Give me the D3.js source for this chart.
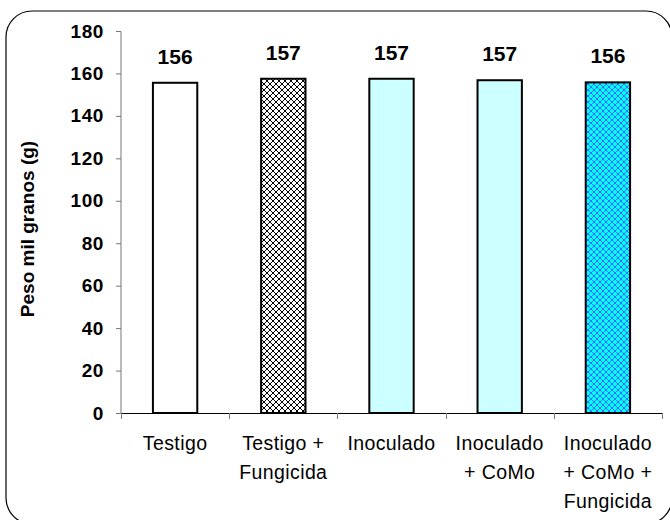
<!DOCTYPE html>
<html><head><meta charset="utf-8">
<script src="https://cdn.jsdelivr.net/npm/d3@7"></script>
<style>body{margin:0;background:#fff}svg{display:block}</style>
</head><body><svg id="c" width="670" height="520"></svg>
<script>
const categories = [["Testigo"],["Testigo +","Fungicida"],["Inoculado"],["Inoculado","+ CoMo"],["Inoculado","+ CoMo +","Fungicida"]];
const values = [155.6, 157.5, 157.5, 156.8, 155.8];
const valueLabels = ["156","157","157","157","156"];
const yTicks = [0,20,40,60,80,100,120,140,160,180];
const fills = ["#ffffff","url(#hatchBlack)","#ccffff","#ccffff","url(#hatchBlue)"];
const FONT = "Liberation Sans, Arial, Helvetica, sans-serif";

const svg = d3.select("#c");
const defs = svg.append("defs");
function hatch(id, bg, fg){
  const p = defs.append("pattern").attr("id",id).attr("patternUnits","userSpaceOnUse")
    .attr("width",6).attr("height",6);
  p.append("rect").attr("width",6).attr("height",6).attr("fill",bg);
  p.append("path").attr("d","M0,0L6,6M6,0L0,6").attr("stroke",fg).attr("stroke-width",1);
  [[3,3],[0,0],[6,0],[0,6],[6,6]].forEach(c=>p.append("circle").attr("cx",c[0]).attr("cy",c[1]).attr("r",1.1).attr("fill",fg));
}
hatch("hatchBlack","#ffffff","#000000");
hatch("hatchBlue","#00ffff","#3a6cff");

svg.append("rect").attr("x",6).attr("y",11).attr("width",666).attr("height",513).attr("rx",26)
  .attr("fill","none").attr("stroke","#000").attr("stroke-width",1.2);

const x = d3.scaleBand().domain(d3.range(categories.length)).range([121,662]).paddingInner(0).paddingOuter(0);
const y = d3.scaleLinear().domain([0,180]).range([413,31]);
const bw = x.bandwidth()*0.41;

// y axis
const ya = svg.append("g").attr("transform","translate(121,0)")
  .call(d3.axisLeft(y).tickValues(yTicks).tickSize(5).tickPadding(12));
ya.select(".domain").attr("stroke","#777").attr("d","M-5,31.5H0V413.5H-5");
ya.selectAll(".tick line").attr("stroke","#777");
ya.selectAll("text").attr("font-family",FONT).attr("font-size",19).attr("letter-spacing","0.6px")
  .attr("font-weight","bold").attr("fill","#000");

// x axis
const xg = svg.append("g");
xg.append("line").attr("x1",121).attr("x2",662).attr("y1",413.5).attr("y2",413.5).attr("stroke","#000");
const bounds = d3.range(categories.length+1).map(i => i<categories.length ? x(i) : x(categories.length-1)+x.bandwidth());
xg.selectAll("line.t").data(bounds).enter().append("line").attr("class","t")
  .attr("x1",d=>Math.round(d)+0.5).attr("x2",d=>Math.round(d)+0.5).attr("y1",413).attr("y2",419).attr("stroke","#777");

// bars
svg.selectAll("rect.bar").data(values).enter().append("rect").attr("class","bar")
  .attr("x",(d,i)=>x(i)+x.bandwidth()/2-bw/2).attr("width",bw)
  .attr("y",d=>y(d)).attr("height",d=>y(0)-y(d))
  .attr("fill",(d,i)=>fills[i]).attr("stroke","#000").attr("stroke-width",2);

// value labels
svg.selectAll("text.v").data(values).enter().append("text").attr("class","v")
  .attr("x",(d,i)=>x(i)+x.bandwidth()/2).attr("y",d=>y(d)-19)
  .attr("text-anchor","middle").attr("font-family",FONT)
  .attr("font-size",21).attr("font-weight","bold").text((d,i)=>valueLabels[i]);

// category labels
categories.forEach((lines,i)=>{
  const cx = x(i)+x.bandwidth()/2;
  const t = svg.append("text").attr("text-anchor","middle").attr("font-family",FONT)
    .attr("font-size",19.5).attr("letter-spacing","0.4px");
  lines.forEach((l,j)=>t.append("tspan").attr("x",cx).attr("y",450+j*29).text(l));
});

// y title
svg.append("text").attr("transform","translate(34,229) rotate(-90)").attr("text-anchor","middle")
  .attr("font-family",FONT).attr("font-size",19).attr("font-weight","bold")
  .text("Peso mil granos (g)");
</script></body></html>
